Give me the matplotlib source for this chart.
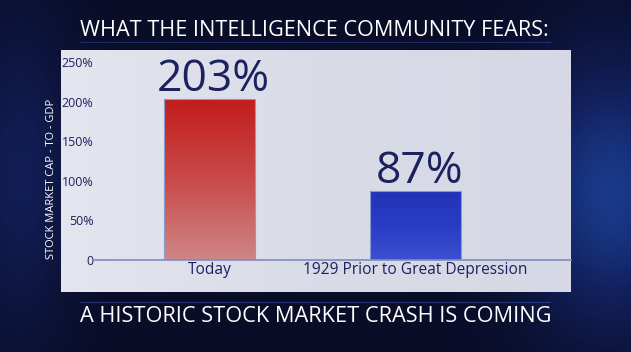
import numpy as np
import matplotlib
matplotlib.use("Agg")
import matplotlib.pyplot as plt
from matplotlib.colors import LinearSegmentedColormap

categories = ["Today", "1929 Prior to Great Depression"]
values = [203, 87]
value_labels = ["203%", "87%"]
yticks = [0, 50, 100, 150, 200, 250]
ytick_labels = ["0", "50%", "100%", "150%", "200%", "250%"]
title = "WHAT THE INTELLIGENCE COMMUNITY FEARS:"
subtitle = "A HISTORIC STOCK MARKET CRASH IS COMING"
ylabel = "STOCK MARKET CAP - TO - GDP"

W, H = 631, 352
fig = plt.figure(figsize=(W / 100, H / 100), dpi=100)
FONT = "Open Sans"
NAVY = "#1c2160"

# dark background
bg = fig.add_axes([0, 0, 1, 1])
bg.set_axis_off()
xx = np.linspace(0, 1, 200)
yy = np.linspace(0, 1, 120)
X, Y = np.meshgrid(xx, yy)
glow = np.exp(-((X - 0.97) ** 2 / 0.02 + (Y - 0.45) ** 2 / 0.15)) * 0.8 \
    + np.exp(-((X - 0.03) ** 2 / 0.008 + (Y - 0.5) ** 2 / 0.2)) * 0.4
bcmap = LinearSegmentedColormap.from_list("bg", ["#0a0d28", "#132260", "#1e48a4"])
bg.imshow(glow, cmap=bcmap, extent=[0, 1, 0, 1], aspect="auto", vmin=0, vmax=1, origin="lower")
bg.set_xlim(0, 1)
bg.set_ylim(0, 1)

# light panel
pl, pb, pw, ph = 61 / W, 1 - 292 / H, 510 / W, 242 / H
pax = fig.add_axes([pl, pb, pw, ph])
pax.set_axis_off()
px = np.linspace(0, 1, 100)
pgrad = np.tile(px, (10, 1))
pcmap = LinearSegmentedColormap.from_list("pn", ["#e4e5ee", "#d9dbe7", "#d6d8e5"])
pax.imshow(pgrad, cmap=pcmap, extent=[0, 1, 0, 1], aspect="auto")
pax.set_xlim(0, 1)
pax.set_ylim(0, 1)

# lines near title and subtitle
fig.add_artist(plt.Line2D([80 / W, 550 / W], [1 - 42 / H] * 2, color="#3a5cc0", lw=0.8, alpha=0.4))
fig.add_artist(plt.Line2D([80 / W, 550 / W], [1 - 302 / H] * 2, color="#3a5cc0", lw=0.8, alpha=0.5))

# chart axes
ax = fig.add_axes([95 / W, 1 - 260 / H, 476 / W, 198 / H])
ax.patch.set_alpha(0)
x = np.arange(len(categories))
bars = ax.bar(x, values, width=0.44, color="none", edgecolor="#8a9ad0", linewidth=0.8, zorder=3)
ax.set_xlim(-0.556, 1.755)
ax.set_ylim(0, 250)

grads = [["#c21d1c", "#c94a4a", "#cf8585"], ["#2233b8", "#2a3cc4", "#3c50d0"]]
for b, g in zip(bars, grads):
    cm = LinearSegmentedColormap.from_list("b", g)
    x0, y0 = b.get_x(), b.get_y()
    w, h = b.get_width(), b.get_height()
    im = ax.imshow(np.linspace(0, 1, 100).reshape(-1, 1), cmap=cm, aspect="auto",
                   extent=[x0, x0 + w, y0, y0 + h], origin="upper", zorder=2)
    im.set_clip_path(b)

for xi, v, lab in zip(x, values, value_labels):
    ax.annotate(lab, (xi, v), xytext=(3, -2), textcoords="offset points", ha="center",
                va="bottom", fontsize=32, color=NAVY, family=FONT)

for s in ["top", "right", "left"]:
    ax.spines[s].set_visible(False)
ax.spines["bottom"].set_color("#7f8bbf")
ax.spines["bottom"].set_linewidth(1.2)
ax.set_yticks(yticks)
ax.set_yticklabels(ytick_labels, fontsize=9, color=NAVY, family=FONT)
ax.set_xticks(x)
ax.set_xticklabels(categories, fontsize=11.2, color=NAVY, family=FONT)
ax.tick_params(axis="y", length=0, pad=1)
ax.tick_params(axis="x", length=0, pad=1.5)

fig.text(314 / W, 1 - 30 / H, title, ha="center", va="center", color="white",
         fontsize=15.6, family=FONT, weight="medium")
fig.text(316 / W, 1 - 317 / H, subtitle, ha="center", va="center", color="white",
         fontsize=15.7, family=FONT, weight="medium")
fig.text(52 / W, 1 - 179 / H, ylabel, ha="center", va="center", rotation=90,
         color="white", fontsize=8, family=FONT, weight="medium")

fig.savefig("out.png", dpi=100)
